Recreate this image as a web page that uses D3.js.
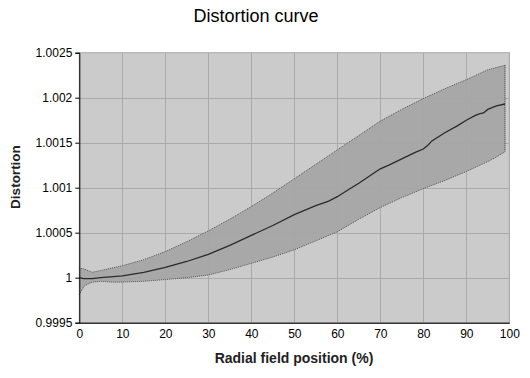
<!DOCTYPE html>
<html><head><meta charset="utf-8">
<script src="https://cdn.jsdelivr.net/npm/d3@7"></script>
<style>
html,body{margin:0;padding:0;background:#fff;}
svg{display:block;font-family:"Liberation Sans",Arial,sans-serif;}
</style></head>
<body>
<svg id="chart" width="530" height="378"></svg>
<script>
const title = "Distortion curve";
const xLabel = "Radial field position (%)";
const yLabel = "Distortion";
const xTicks = [0,10,20,30,40,50,60,70,80,90,100];
const yTicks = [0.9995,1,1.0005,1.001,1.0015,1.002,1.0025];
const yTickLabels = ["0.9995","1","1.0005","1.001","1.0015","1.002","1.0025"];

const meanX = [0,1,3,5,10,15,20,25,30,35,40,45,50,55,58,60,62,65,70,72,75,78,80,81,82,85,88,90,92,93,94,95,97,99];
const meanY = [1.0,0.99999,0.99999,1.0,1.00002,1.00006,1.000115,1.00018,1.00026,1.00036,1.00047,1.00058,1.0007,1.0008,1.00085,1.0009,1.00096,1.00105,1.00121,1.00125,1.00132,1.00139,1.00143,1.00147,1.00152,1.00161,1.00169,1.00175,1.0018,1.00182,1.00183,1.00187,1.00191,1.00193];

const upperX = [0,1,3,5,10,15,20,25,30,35,40,45,50,55,60,65,70,75,80,85,90,95,99];
const upperY = [1.000105,1.0001,1.00006,1.00008,1.000133,1.0002,1.00029,1.0004,1.00052,1.00065,1.00079,1.00094,1.0011,1.00126,1.00142,1.00158,1.00174,1.00187,1.00199,1.0021,1.0022,1.00231,1.00236];

const lowerX = [0,1,2,3,5,8,10,15,20,25,30,35,40,45,50,55,60,65,70,75,80,85,90,95,97,98,99];
const lowerY = [0.99981,0.9999,0.99993,0.99995,0.99996,0.99995,0.999952,0.99996,0.99998,1.0,1.00003,1.00009,1.00016,1.00023,1.00031,1.00041,1.00051,1.00065,1.00078,1.00089,1.00099,1.00108,1.00118,1.00129,1.00134,1.00137,1.0014];

const svg = d3.select("#chart");
const L = 79.3, R = 509.3, T = 52.7, B = 322.7;
const x = d3.scaleLinear().domain([0,100]).range([L,R]);
const y = d3.scaleLinear().domain([0.9995,1.0025]).range([B,T]);

// plot background
svg.append("rect").attr("x",L).attr("y",T).attr("width",R-L).attr("height",B-T)
  .attr("fill","#cbcbcb").attr("stroke","#a8a8a8").attr("stroke-width",1);

// gridlines
const g = svg.append("g");
g.selectAll("line.v").data(xTicks.slice(1)).join("line")
  .attr("x1",d=>Math.round(x(d))+0.5).attr("x2",d=>Math.round(x(d))+0.5)
  .attr("y1",T).attr("y2",B).attr("stroke","#aaaaaa").attr("stroke-width",1);
g.selectAll("line.h").data(yTicks.slice(0,-1)).join("line")
  .attr("y1",d=>Math.round(y(d))+0.5).attr("y2",d=>Math.round(y(d))+0.5)
  .attr("x1",L).attr("x2",R).attr("stroke","#aaaaaa").attr("stroke-width",1);

// band
const upper = upperX.map((v,i)=>[v,upperY[i]]);
const lower = lowerX.map((v,i)=>[v,lowerY[i]]);
const bandPts = upper.concat(lower.slice().reverse());
svg.append("path").datum(bandPts)
  .attr("d", d3.line().x(d=>x(d[0])).y(d=>y(d[1]))(bandPts)+"Z")
  .attr("fill","#a5a5a5").attr("fill-opacity",0.95).attr("stroke","none");
svg.append("path").datum(upper)
  .attr("d", d3.line().x(d=>x(d[0])).y(d=>y(d[1])))
  .attr("fill","none").attr("stroke","#555").attr("stroke-width",1).attr("stroke-dasharray","1,1");
svg.append("path").datum(lower)
  .attr("d", d3.line().x(d=>x(d[0])).y(d=>y(d[1])))
  .attr("fill","none").attr("stroke","#555").attr("stroke-width",1).attr("stroke-dasharray","1,1");
svg.append("line")
  .attr("x1",x(upperX[upperX.length-1])).attr("x2",x(lowerX[lowerX.length-1]))
  .attr("y1",y(upperY[upperY.length-1])).attr("y2",y(lowerY[lowerY.length-1]))
  .attr("stroke","#333").attr("stroke-width",1).attr("stroke-dasharray","1,1");

// mean line
const mean = meanX.map((v,i)=>[v,meanY[i]]);
svg.append("path").datum(mean)
  .attr("d", d3.line().x(d=>x(d[0])).y(d=>y(d[1])))
  .attr("fill","none").attr("stroke","#2a2a2a").attr("stroke-width",1.3);

// y axis
const yAxis = d3.axisLeft(y).tickValues(yTicks).tickFormat((d,i)=>yTickLabels[i]).tickSize(4).tickPadding(3);
const ya = svg.append("g").attr("transform",`translate(${L},0)`).call(yAxis);
ya.select(".domain").attr("stroke","#000");
ya.selectAll("line").attr("stroke","#000");
ya.selectAll("text").attr("font-size","12px").attr("fill","#000").attr("font-family","Liberation Sans, Arial, sans-serif");

// x axis
const xAxis = d3.axisBottom(x).tickValues(xTicks).tickSize(0).tickPadding(7);
const xa = svg.append("g").attr("transform",`translate(0,${B})`).call(xAxis);
xa.select(".domain").attr("stroke","#000");
xa.selectAll("text").attr("font-size","12px").attr("fill","#000").attr("font-family","Liberation Sans, Arial, sans-serif");

// titles
svg.append("text").attr("x",256).attr("y",22).attr("text-anchor","middle")
  .attr("font-size","18px").attr("fill","#000").text(title);
svg.append("text").attr("x",294).attr("y",363).attr("text-anchor","middle")
  .attr("font-size","14px").attr("font-weight","bold").attr("fill","#222").text(xLabel);
svg.append("text").attr("transform","translate(20,177) rotate(-90)").attr("text-anchor","middle")
  .attr("font-size","13.5px").attr("font-weight","bold").attr("fill","#222").text(yLabel);
</script>
</body></html>
